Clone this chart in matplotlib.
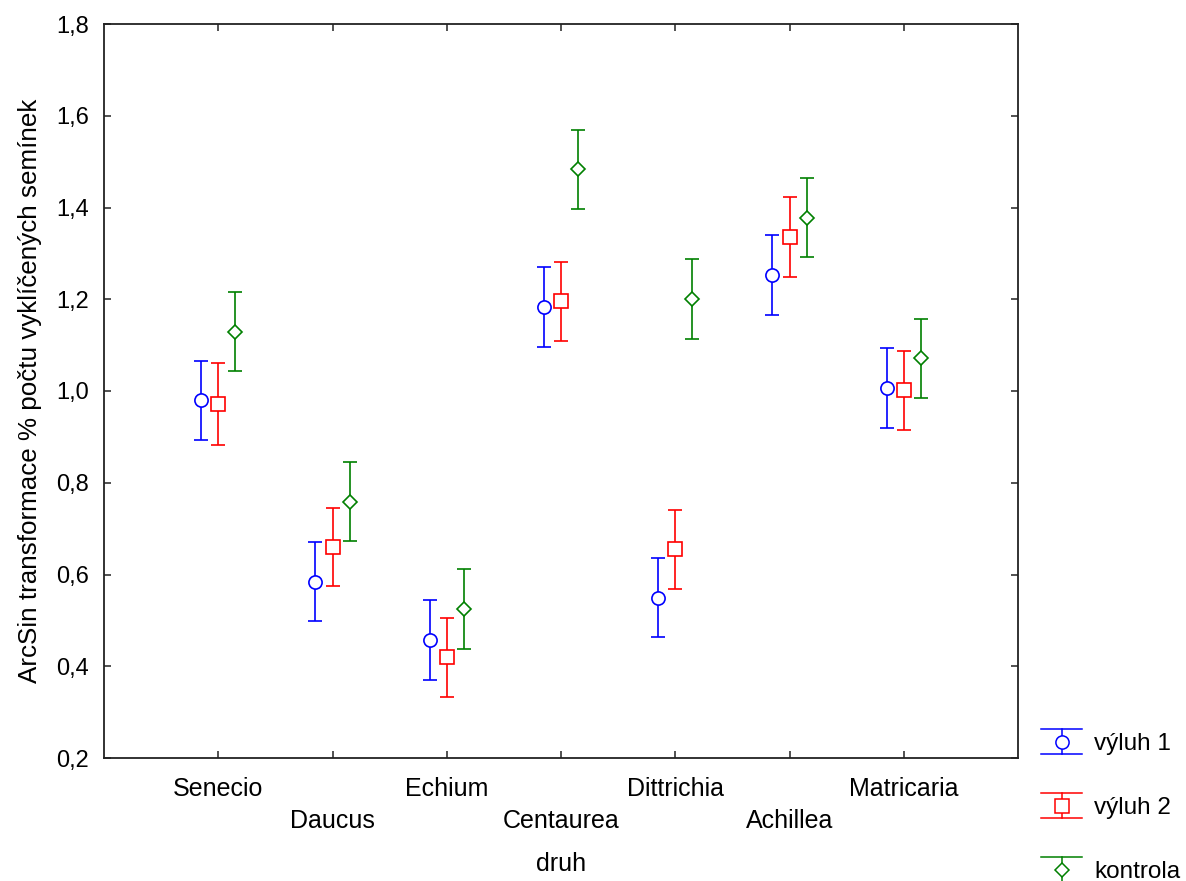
import matplotlib
matplotlib.use('Agg')
import numpy as np
import matplotlib.pyplot as plt
from matplotlib.lines import Line2D
from matplotlib.legend_handler import HandlerBase

plt.rcParams['font.family'] = ['Liberation Sans', 'DejaVu Sans']

# data
druh = ['Senecio', 'Daucus', 'Echium', 'Centaurea', 'Dittrichia', 'Achillea', 'Matricaria']
vyluh1 = [0.980, 0.584, 0.457, 1.183, 0.549, 1.253, 1.007]
vyluh2 = [0.972, 0.660, 0.420, 1.196, 0.655, 1.336, 1.002]
kontrola = [1.129, 0.759, 0.524, 1.483, 1.200, 1.378, 1.071]
err1 = [0.086, 0.086, 0.087, 0.087, 0.086, 0.088, 0.087]
err2 = [0.089, 0.086, 0.086, 0.086, 0.086, 0.087, 0.086]
err3 = [0.086, 0.087, 0.087, 0.086, 0.087, 0.086, 0.087]
yticks = [0.2, 0.4, 0.6, 0.8, 1.0, 1.2, 1.4, 1.6, 1.8]
ytick_labels = ['0,2', '0,4', '0,6', '0,8', '1,0', '1,2', '1,4', '1,6', '1,8']

series = [
    ('výluh 1', vyluh1, err1, '#0000ff', 'o', 9.5, -0.15),
    ('výluh 2', vyluh2, err2, '#ff0000', 's', 9.5, 0.0),
    ('kontrola', kontrola, err3, '#008000', 'D', 7, 0.15),
]


class HandlerErr(HandlerBase):
    # statistica style legend key: wide caps, vertical bar, marker
    def create_artists(self, legend, orig_handle, xdescent, ydescent,
                       width, height, fontsize, trans):
        c = orig_handle.get_color()
        x0 = -xdescent
        x1 = x0 + width
        xm = (x0 + x1) / 2
        yc = -ydescent + height / 2
        h = 9
        top = Line2D([x0, x1], [yc + h, yc + h], color=c, lw=1.1)
        bot = Line2D([x0, x1], [yc - h, yc - h], color=c, lw=1.1)
        vert = Line2D([xm, xm], [yc - h, yc + h], color=c, lw=1.1)
        mk = Line2D([xm], [yc], marker=orig_handle.get_marker(),
                    ms=orig_handle.get_markersize(), mfc='white',
                    mec=c, mew=1.1, ls='none')
        arts = [top, bot, vert, mk]
        for a in arts:
            a.set_transform(trans)
        return arts


fig = plt.figure(figsize=(11.86, 8.81), dpi=100)
ax = fig.add_axes([104 / 1186, 1 - 758 / 881, 914 / 1186, 734 / 881])

x = np.arange(1, len(druh) + 1)
handles = []
for name, vals, err, col, mk, ms, off in series:
    ax.errorbar(x + off, vals, yerr=err, fmt=mk, color=col, ms=ms,
                mfc='white', mec=col, mew=1.2, elinewidth=1.2,
                capsize=4.7, capthick=1.2)
    handles.append(Line2D([], [], color=col, marker=mk, ms=ms, label=name))

ax.set_xlim(0, 8)
ax.set_ylim(0.2, 1.8)
ax.set_xticks(x)
ax.set_xticklabels(druh, fontsize=18)
ax.set_yticks(yticks)
ax.set_yticklabels(ytick_labels, fontsize=17)
ax.tick_params(direction='in', length=5, width=1.1, top=True, right=True,
               color='#222222')
ax.tick_params(axis='y', pad=11)
for i, t in enumerate(ax.xaxis.get_major_ticks()):
    t.set_pad(13.5 if i % 2 == 0 else 37)

for s in ax.spines.values():
    s.set_linewidth(1.3)
    s.set_color('#222222')

ax.set_xlabel('druh', fontsize=18)
ax.xaxis.set_label_coords(0.5, -0.128)
ax.set_ylabel('ArcSin transformace % počtu vyklíčených semínek', fontsize=18.7)
ax.yaxis.set_label_coords(-0.068, 0.5)

fig.legend(handles=handles, handler_map={Line2D: HandlerErr()},
           loc='upper left', bbox_to_anchor=(1041 / 1186, 1 - 733 / 881),
           frameon=False, fontsize=17.5, borderpad=0, borderaxespad=0,
           handlelength=1.7, handletextpad=0.5, labelspacing=1.73)

fig.savefig('out.png', dpi=100)
